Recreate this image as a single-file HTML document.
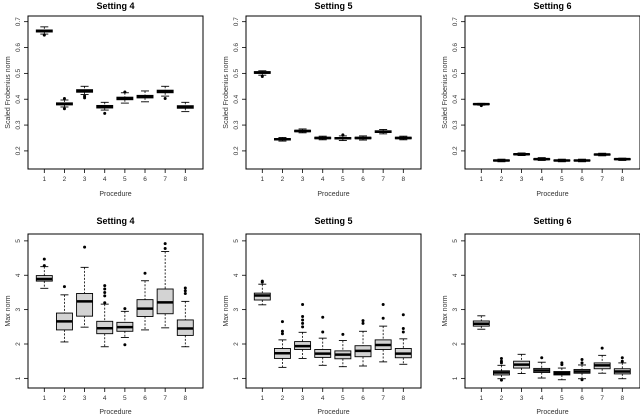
<!DOCTYPE html>
<html><head><meta charset="utf-8"><style>
html,body{margin:0;padding:0;background:#fff;width:640px;height:415px;overflow:hidden}
svg{display:block;font-family:"Liberation Sans",sans-serif}
</style></head><body>
<svg id="chart" width="640" height="415" viewBox="0 0 640 415" xmlns="http://www.w3.org/2000/svg"></svg>
<script>
const procedures = [1,2,3,4,5,6,7,8];
// Top row: scaled Frobenius norm  [lo, q1, med, q3, hi]
const frob4 = [[.652,.66,.665,.668,.68],[.37,.378,.382,.386,.397],[.418,.427,.432,.437,.45],[.358,.366,.371,.376,.388],[.385,.398,.403,.408,.425],[.39,.405,.41,.415,.432],[.412,.425,.43,.435,.45],[.352,.365,.37,.375,.388]];
const frob4Out = [[.648],[.403,.363],[.412,.405],[.345],[.428],[],[.403],[]];
const frob5 = [[.493,.5,.503,.507,.51],[.238,.242,.245,.248,.252],[.27,.274,.277,.28,.285],[.243,.247,.25,.253,.257],[.24,.246,.249,.252,.258],[.242,.247,.25,.253,.258],[.266,.271,.274,.278,.283],[.243,.247,.25,.253,.257]];
const frob5Out = [[.488],[],[],[],[.262],[],[],[]];
const frob6 = [[.377,.379,.381,.383,.384],[.158,.161,.163,.165,.168],[.182,.185,.187,.189,.192],[.163,.166,.168,.17,.174],[.158,.161,.163,.165,.168],[.158,.161,.163,.165,.168],[.181,.184,.186,.188,.191],[.163,.166,.168,.17,.172]];
const frob6Out = [[.375],[],[],[],[],[],[],[]];
// Bottom row: max norm
const max4 = [[3.62,3.83,3.89,3.99,4.25],[2.06,2.41,2.66,2.9,3.43],[2.49,2.81,3.24,3.47,4.23],[1.92,2.3,2.46,2.66,3.16],[2.19,2.37,2.49,2.63,2.95],[2.41,2.8,3.03,3.29,3.84],[2.47,2.88,3.21,3.6,4.69],[1.92,2.25,2.45,2.7,3.24]];
const max4Out = [[4.28,4.47],[3.67],[4.82],[3.2,3.4,3.5,3.6,3.7],[3.03,1.98],[4.06],[4.78,4.92],[3.47,3.55,3.63]];
const max5 = [[3.14,3.28,3.41,3.48,3.74],[1.32,1.58,1.73,1.87,2.12],[1.58,1.84,1.94,2.07,2.34],[1.38,1.61,1.72,1.84,2.17],[1.34,1.57,1.69,1.8,2.1],[1.36,1.63,1.8,1.95,2.37],[1.48,1.84,1.97,2.12,2.52],[1.41,1.6,1.72,1.87,2.15]];
const max5Out = [[3.8,3.83],[2.3,2.37,2.65],[2.5,2.6,2.7,2.8,3.15],[2.35,2.78],[2.28],[2.6,2.68],[2.75,3.15],[2.35,2.45,2.85]];
const max6 = [[2.43,2.52,2.59,2.67,2.82],[0.99,1.1,1.17,1.22,1.38],[1.14,1.3,1.4,1.5,1.7],[1.01,1.17,1.23,1.29,1.47],[0.96,1.1,1.15,1.2,1.3],[0.99,1.15,1.2,1.26,1.39],[1.15,1.28,1.38,1.45,1.67],[0.99,1.13,1.2,1.28,1.45]];
const max6Out = [[],[1.45,1.5,1.58,0.95],[],[1.6],[1.4,1.45],[1.45,1.55,0.96],[1.88],[1.5,1.6]];
const frobTicks = [0.2,0.3,0.4,0.5,0.6,0.7];
const maxTicks = [1,2,3,4,5];
const titles = ["Setting 4","Setting 5","Setting 6"];

const svg = document.getElementById('chart');
const NS = 'http://www.w3.org/2000/svg';
function mk(tag, attrs, parent){const e=document.createElementNS(NS,tag);for(const k in attrs)e.setAttribute(k,attrs[k]);(parent||svg).appendChild(e);return e;}

const panelX = [28,246,465];
const W = 175;
const rows = [
 {y0:16,y1:169,vTop:0.722,vBot:0.13,ticks:frobTicks,ylab:"Scaled Frobenius norm",data:[frob4,frob5,frob6],outs:[frob4Out,frob5Out,frob6Out],titleY:9,tickLabY:181,xlabY:196,tag:'frob'},
 {y0:234,y1:388,vTop:5.2,vBot:0.72,ticks:maxTicks,ylab:"Max norm",data:[max4,max5,max6],outs:[max4Out,max5Out,max6Out],titleY:224,tickLabY:400,xlabY:414,tag:'max'}
];
rows.forEach((r,ri)=>{
 panelX.forEach((px,pi)=>{
  const g = mk('g',{});
  
  
  const yS = v => r.y0 + (r.vTop - v)/(r.vTop - r.vBot)*(r.y1 - r.y0);
  const xS = i => px + 16.3 + i*(141/7);
  const t = mk('text',{x:px+W/2,y:r.titleY,'text-anchor':'middle','font-size':9,'font-weight':'bold',fill:'#000'},g);
  t.textContent = titles[pi];
  
  
  const fr = mk('rect',{x:px,y:r.y0,width:W,height:r.y1-r.y0,fill:'none',stroke:'#000','stroke-width':1},g);
  
  
  // y axis
  r.ticks.forEach(v=>{
   const y=yS(v);
   mk('line',{x1:px-4,x2:px,y1:y,y2:y,stroke:'#000','stroke-width':0.8},g);
   const tl = mk('text',{x:0,y:0,transform:`translate(${px-8},${y}) rotate(-90)`,'text-anchor':'middle','font-size':6.5,fill:'#333'},g);
   tl.textContent = String(v);
   
   
  });
  const yl = mk('text',{x:0,y:0,transform:`translate(${px-18},${(r.y0+r.y1)/2}) rotate(-90)`,'text-anchor':'middle','font-size':7,fill:'#333'},g);
  yl.textContent = r.ylab;
  
  
  // x axis
  procedures.forEach((p,i)=>{
   const x=xS(i);
   mk('line',{x1:x,x2:x,y1:r.y1,y2:r.y1+4,stroke:'#000','stroke-width':0.8},g);
   const tl = mk('text',{x:x,y:r.tickLabY,'text-anchor':'middle','font-size':6.5,fill:'#333'},g);
   tl.textContent = String(p);
   
   
  });
  const xl = mk('text',{x:px+W/2,y:r.xlabY,'text-anchor':'middle','font-size':7,fill:'#333'},g);
  xl.textContent = 'Procedure';
  
  
  // boxes
  const d = r.data[pi], o = r.outs[pi];
  d.forEach((s,i)=>{
   const x=xS(i), hw=8, cw=4;
   const bg = mk('g',{},g);
   
   
   mk('line',{x1:x,x2:x,y1:yS(s[4]),y2:yS(s[3]),stroke:'#000','stroke-width':0.8,'stroke-dasharray':'2,1.5'},bg);
   mk('line',{x1:x,x2:x,y1:yS(s[1]),y2:yS(s[0]),stroke:'#000','stroke-width':0.8,'stroke-dasharray':'2,1.5'},bg);
   mk('line',{x1:x-cw,x2:x+cw,y1:yS(s[4]),y2:yS(s[4]),stroke:'#000','stroke-width':0.9},bg);
   mk('line',{x1:x-cw,x2:x+cw,y1:yS(s[0]),y2:yS(s[0]),stroke:'#000','stroke-width':0.9},bg);
   mk('rect',{x:x-hw,y:yS(s[3]),width:2*hw,height:Math.max(0.5,yS(s[1])-yS(s[3])),fill:'#d3d3d3',stroke:'#000','stroke-width':0.9},bg);
   mk('line',{x1:x-hw,x2:x+hw,y1:yS(s[2]),y2:yS(s[2]),stroke:'#000','stroke-width':2.5},bg);
   o[i].forEach(v=>{
    const c = mk('circle',{cx:x,cy:yS(v),r:1.5,fill:'#000'},bg);
    
    
   });
  });
 });
});
</script>
</body></html>
